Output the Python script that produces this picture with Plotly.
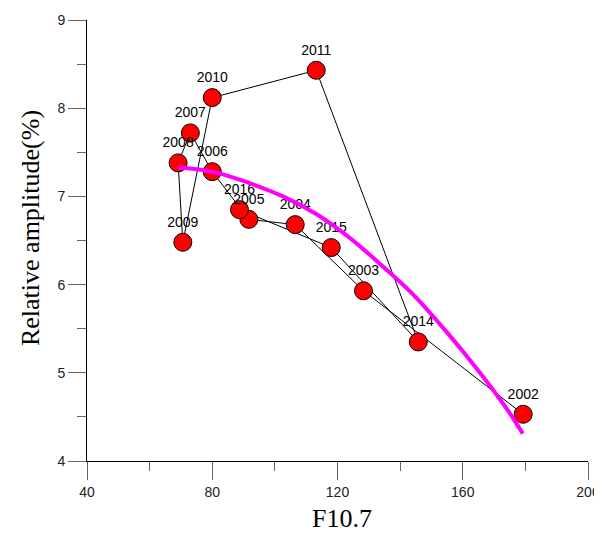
import plotly.graph_objects as go

years = ["2002", "2003", "2004", "2005", "2006", "2007", "2008", "2009",
         "2010", "2011", "2014", "2015", "2016"]
f107 = [179.3, 128.3, 106.5, 91.7, 80.0, 73.0, 69.1, 70.6,
        80.0, 113.2, 145.8, 118.0, 88.7]
amp = [4.53, 5.93, 6.68, 6.74, 7.28, 7.72, 7.38, 6.48,
       8.12, 8.43, 5.35, 6.42, 6.85]

fit_x = [69.1, 81.3, 91.9, 102.6, 113.2, 123.9, 133.4, 144.1, 154.7, 165.3, 173.9, 179.2]
fit_y = [7.33, 7.27, 7.15, 7.00, 6.80, 6.53, 6.24, 5.89, 5.47, 5.01, 4.60, 4.31]

x_ticks = [40, 80, 120, 160, 200]
y_ticks = [4, 5, 6, 7, 8, 9]

fig = go.Figure()
fig.add_trace(go.Scatter(x=f107, y=amp, mode="lines",
                         line=dict(color="black", width=1), hoverinfo="skip"))
fig.add_trace(go.Scatter(x=f107, y=amp, mode="markers+text", text=years,
                         textposition="top center",
                         textfont=dict(family="Liberation Sans, Arial", size=14, color="black"),
                         marker=dict(size=18, color="#ff0000",
                                     line=dict(color="black", width=1))))
fig.add_trace(go.Scatter(x=fit_x, y=fit_y, mode="lines",
                         line=dict(color="#ff00ff", width=4, shape="spline")))

axis_common = dict(showline=True, linecolor="black", linewidth=1, automargin=False,
                   ticks="outside", ticklen=18, tickcolor="#666666", tickwidth=1,
                   showgrid=False, zeroline=False,
                   tickfont=dict(family="Liberation Sans, Arial", size=14, color="#222222"))

fig.update_layout(
    width=594, height=525,
    margin=dict(l=79, r=14, t=12, b=72),
    paper_bgcolor="white", plot_bgcolor="white",
    showlegend=False,
    xaxis=dict(range=[40, 200], tickvals=x_ticks, **axis_common,
               minor=dict(dtick=20, ticklen=9, tickcolor="#666666", ticks="outside")),
    yaxis=dict(range=[4, 9], tickvals=y_ticks, **axis_common,
               minor=dict(dtick=0.5, ticklen=9, tickcolor="#666666", ticks="outside")),
    annotations=[
        dict(text="F10.7", xref="paper", yref="paper", x=0.509, y=-0.13,
             xanchor="center", yanchor="middle", showarrow=False,
             font=dict(family="Liberation Serif, Times New Roman", size=26, color="black")),
        dict(text="Relative amplitude(%)", xref="paper", yref="paper", x=-0.114, y=0.528,
             xanchor="center", yanchor="middle", textangle=-90, showarrow=False,
             font=dict(family="Liberation Serif, Times New Roman", size=26, color="black")),
    ],
)

fig.write_html("out.html")
